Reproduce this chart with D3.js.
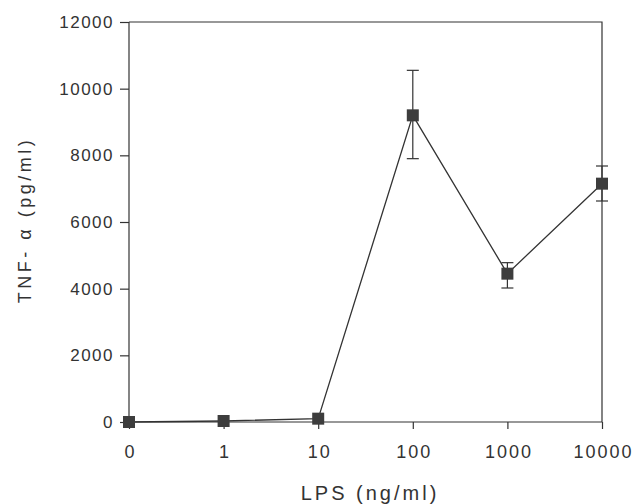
<!DOCTYPE html>
<html>
<head>
<meta charset="utf-8">
<script src="https://cdn.jsdelivr.net/npm/d3@7"></script>
<style>
  body { margin: 0; background: #fff; }
  svg text { font-family: "Liberation Sans", Arial, sans-serif; fill: #333; }
</style>
</head>
<body>
<svg id="chart" width="636" height="504"></svg>
<script>
// LPS dose (ng/ml) categories, TNF-alpha mean and error bar ends (pg/ml)
var doses = ["0", "1", "10", "100", "1000", "10000"];
var tnf = [0, 30, 100, 9200, 4450, 7150];
var errHigh = [null, null, null, 10550, 4780, 7680];
var errLow = [null, null, null, 7900, 4020, 6630];
var yTicks = [0, 2000, 4000, 6000, 8000, 10000, 12000];

var svg = d3.select("#chart");
var margin = { left: 129, right: 34, top: 22, bottom: 82 };
var width = 636 - margin.left - margin.right,
    height = 504 - margin.top - margin.bottom;
var ink = "#333";

var g = svg.append("g").attr("transform", "translate(" + margin.left + "," + margin.top + ")");

var x = d3.scalePoint().domain(doses).range([0, width]);
var y = d3.scaleLinear().domain([0, 12000]).range([height, 0]);

// frame (top and right)
g.append("path")
    .attr("d", "M0,0H" + width + "V" + height)
    .attr("fill", "none").attr("stroke", ink).attr("stroke-width", 1.2);

var yAxis = g.append("g")
    .call(d3.axisLeft(y).tickValues(yTicks).tickSize(9).tickPadding(6).tickFormat(d3.format("d")));
var xAxis = g.append("g")
    .attr("transform", "translate(0," + height + ")")
    .call(d3.axisBottom(x).tickSize(7).tickPadding(16));

[yAxis, xAxis].forEach(function (a) {
    a.selectAll("path, line").attr("stroke", ink).attr("stroke-width", 1.2);
    a.selectAll("text").attr("fill", ink);
});
yAxis.selectAll("text").style("font-size", "17px").style("letter-spacing", "1.5px");
xAxis.selectAll("text").style("font-size", "18px").style("letter-spacing", "2px")
    .attr("dx", "1px");
xAxis.select(".domain").attr("d", "M0,0H" + width);
yAxis.select(".domain").attr("d", "M0,0V" + height);

// axis titles
svg.append("text")
    .attr("x", 370)
    .attr("y", 500)
    .attr("text-anchor", "middle")
    .style("font-size", "20px")
    .style("letter-spacing", "3px")
    .text("LPS (ng/ml)");
svg.append("text")
    .attr("transform", "translate(31," + (margin.top + 198) + ") rotate(-90)")
    .attr("text-anchor", "middle")
    .style("font-size", "18px")
    .style("letter-spacing", "3.5px")
    .text("TNF- \u03b1  (pg/ml)");

var pts = doses.map(function (d, i) {
    return { dose: d, v: tnf[i], hi: errHigh[i], lo: errLow[i] };
});

// error bars
var eb = g.selectAll(".err").data(pts.filter(function (p) { return p.hi !== null; }))
    .enter().append("g").attr("class", "err")
    .attr("stroke", ink).attr("stroke-width", 1.2);
eb.append("line")
    .attr("x1", function (p) { return x(p.dose); })
    .attr("x2", function (p) { return x(p.dose); })
    .attr("y1", function (p) { return y(p.hi); })
    .attr("y2", function (p) { return y(p.lo); });
eb.selectAll(".cap").data(function (p) { return [[p.dose, p.hi], [p.dose, p.lo]]; })
    .enter().append("line")
    .attr("x1", function (c) { return x(c[0]) - 6; })
    .attr("x2", function (c) { return x(c[0]) + 6; })
    .attr("y1", function (c) { return y(c[1]); })
    .attr("y2", function (c) { return y(c[1]); });

// connecting line
g.append("path")
    .datum(pts)
    .attr("fill", "none").attr("stroke", ink).attr("stroke-width", 1.3)
    .attr("d", d3.line().x(function (p) { return x(p.dose); }).y(function (p) { return y(p.v); }));

// square markers
var s = 12;
g.selectAll(".pt").data(pts).enter().append("rect")
    .attr("class", "pt")
    .attr("x", function (p) { return x(p.dose) - s / 2; })
    .attr("y", function (p) { return y(p.v) - s / 2; })
    .attr("width", s).attr("height", s)
    .attr("fill", "#3d3d3d");
</script>
</body>
</html>
